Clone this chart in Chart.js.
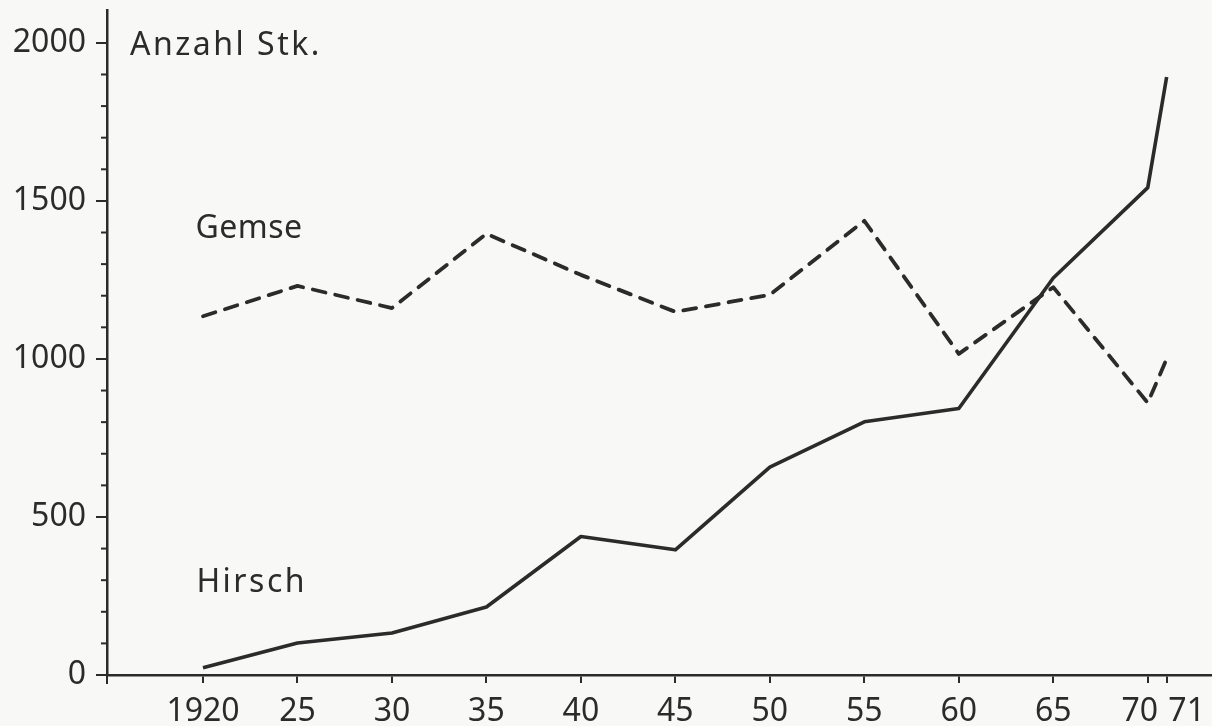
<!DOCTYPE html>
<html>
<head>
<meta charset="utf-8">
<script src="https://cdn.jsdelivr.net/npm/chart.js@4"></script>
<style>
  html, body { margin: 0; padding: 0; background: #f8f8f6; }
  #wrap { width: 1212px; height: 726px; }
</style>
</head>
<body>
<div id="wrap"><canvas id="c" width="1212" height="726"></canvas></div>
<script>
// values (Stück per year)
const years  = [1920, 1925, 1930, 1935, 1940, 1945, 1950, 1955, 1960, 1965, 1970, 1971];
const gemse  = [1135, 1231, 1161, 1396, 1266, 1149, 1203, 1437, 1016, 1227, 861, 1000];
const hirsch = [23, 101, 133, 215, 438, 396, 658, 801, 843, 1256, 1542, 1892];
const yMajor = [0, 500, 1000, 1500, 2000];
const xTickLabels = ['1920','25','30','35','40','45','50','55','60','65','70','71'];

const ink = '#2b2b2b';
const fontFam = '"Noto Sans", "DejaVu Sans", sans-serif';

// paper background, minor y ticks, x labels, axis stub and the in-chart texts
const decor = {
  id: 'decor',
  beforeDraw(chart) {
    const c = chart.ctx;
    c.save();
    c.fillStyle = '#f8f8f6';
    c.fillRect(0, 0, chart.width, chart.height);
    c.restore();
  },
  afterDraw(chart) {
    const c = chart.ctx, xs = chart.scales.x, ys = chart.scales.y;
    const left = chart.chartArea.left, bottom = chart.chartArea.bottom;
    c.save();
    c.strokeStyle = ink;
    c.lineWidth = 2;
    // minor ticks every 100
    for (let v = 100; v < 2100; v += 100) {
      if (v % 500 === 0) continue;
      const y = ys.getPixelForValue(v);
      c.beginPath(); c.moveTo(left - 6, y); c.lineTo(left, y); c.stroke();
    }
    // y axis runs a bit below the x axis
    c.beginPath(); c.moveTo(left, bottom); c.lineTo(left, bottom + 9); c.stroke();

    c.fillStyle = ink;
    c.font = '32px ' + fontFam;
    c.textBaseline = 'alphabetic';
    // x labels; 70 and 71 are pushed apart as in the print
    c.textAlign = 'center';
    years.forEach((yr, i) => {
      let dx = 0;
      if (yr === 1970) dx = -8;
      if (yr === 1971) dx = 20;
      c.fillText(xTickLabels[i], xs.getPixelForValue(yr) + dx, 721);
    });
    c.textAlign = 'left';
    c.letterSpacing = '2.5px';
    c.fillText('Anzahl Stk.', left + 23, ys.getPixelForValue(2000) + 12);
    c.letterSpacing = '0.5px';
    c.fillText('Gemse', xs.getPixelForValue(1919.6), ys.getPixelForValue(1384));
    c.letterSpacing = '2.5px';
    c.fillText('Hirsch', xs.getPixelForValue(1919.65), ys.getPixelForValue(264));
    c.restore();
  }
};

new Chart(document.getElementById('c'), {
  type: 'line',
  data: {
    datasets: [
      { label: 'Gemse', data: years.map((y, i) => ({ x: y, y: gemse[i] })),
        borderColor: ink, borderWidth: 3.8, borderDash: [13, 10], borderCapStyle: 'round',
        borderJoinStyle: 'round', pointRadius: 0, tension: 0 },
      { label: 'Hirsch', data: years.map((y, i) => ({ x: y, y: hirsch[i] })),
        borderColor: ink, borderWidth: 3.6, borderJoinStyle: 'round', pointRadius: 0, tension: 0 }
    ]
  },
  options: {
    responsive: false,
    animation: false,
    layout: { padding: { top: 10, right: 0, left: 0, bottom: 0 } },
    plugins: { legend: { display: false }, tooltip: { enabled: false } },
    scales: {
      x: {
        type: 'linear', min: 1914.92, max: 1973.4,
        afterBuildTicks: s => { s.ticks = years.map(v => ({ value: v })); },
        afterFit: s => { s.height = 51; s.paddingLeft = 0; s.paddingRight = 0; },
        ticks: { display: false, autoSkip: false, maxRotation: 0 },
        grid: { drawOnChartArea: false, tickLength: 8, color: ink, lineWidth: 2 },
        border: { color: ink, width: 2.5 }
      },
      y: {
        min: 0, max: 2104,
        afterBuildTicks: s => { s.ticks = yMajor.map(v => ({ value: v })); },
        afterFit: s => { s.width = 107; s.paddingTop = 0; s.paddingBottom = 0; },
        ticks: {
          color: ink, padding: 10,
          font: { family: fontFam, size: 32 },
          callback: v => String(v)
        },
        grid: { drawOnChartArea: false, tickLength: 11, color: ink, lineWidth: 2 },
        border: { color: ink, width: 2.5 }
      }
    }
  },
  plugins: [decor]
});
</script>
</body>
</html>
